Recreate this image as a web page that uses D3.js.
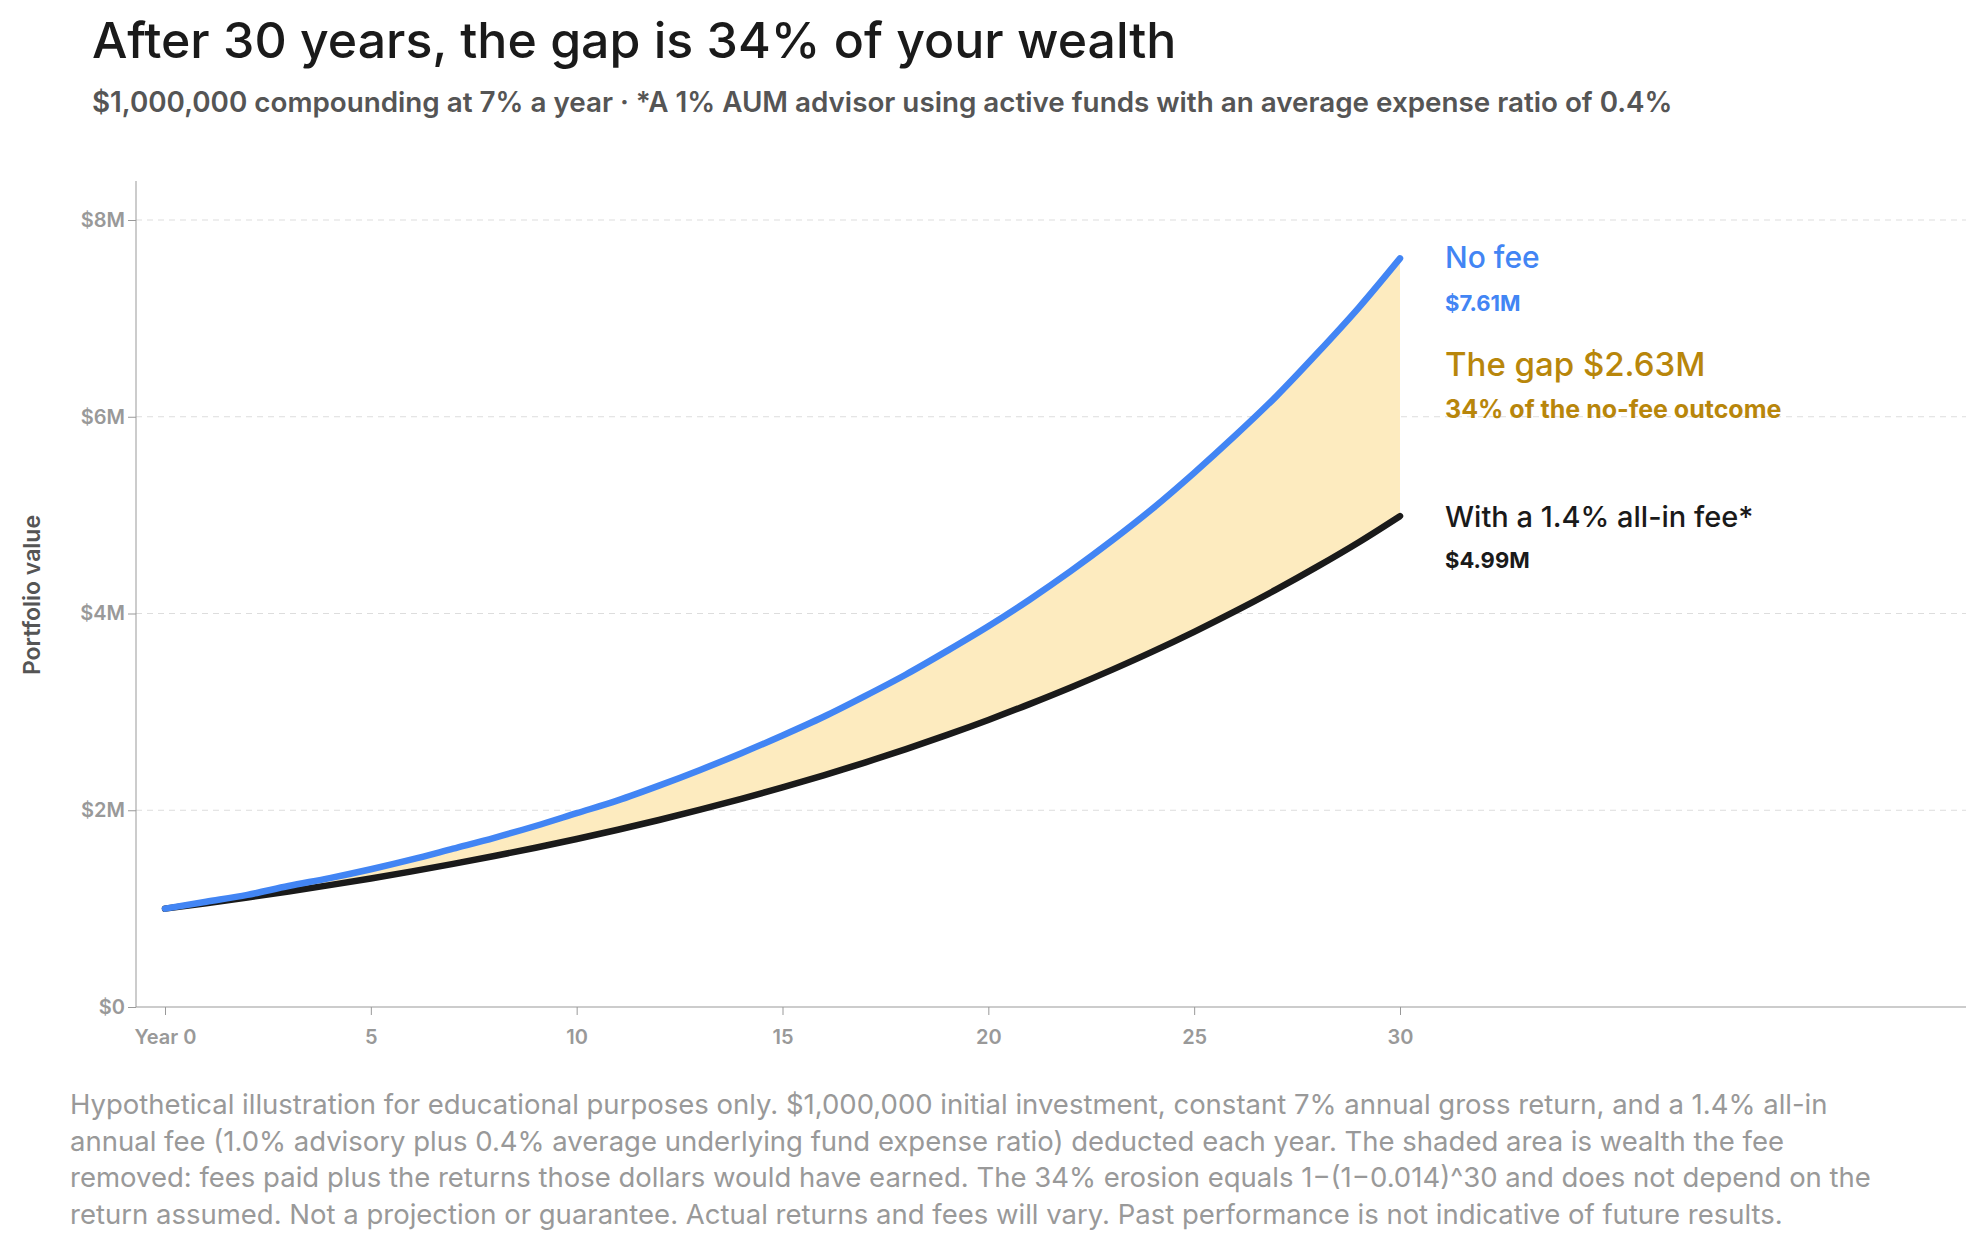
<!DOCTYPE html>
<html><head><meta charset="utf-8">
<script src="https://cdn.jsdelivr.net/npm/d3@7"></script>
<style>body{margin:0;background:#fff;font-family:Inter,"Open Sans",sans-serif}</style>
</head><body><svg id="c" width="1976" height="1259"></svg>
<script>
const years = d3.range(0,31);
const noFee = [1.00,1.07,1.14,1.23,1.31,1.40,1.50,1.61,1.72,1.84,1.97,2.10,2.25,2.41,2.58,2.76,2.95,3.16,3.38,3.62,3.87,4.14,4.43,4.74,5.07,5.43,5.81,6.21,6.65,7.11,7.61];
const withFee = [1.00,1.055,1.113,1.174,1.239,1.307,1.379,1.455,1.535,1.619,1.708,1.802,1.901,2.006,2.116,2.233,2.355,2.485,2.622,2.766,2.918,3.079,3.248,3.427,3.615,3.814,4.024,4.245,4.479,4.725,4.99];
const gapLabel = "$2.63M";
const xTicks = [0,5,10,15,20,25,30];
const yTicks = [0,2,4,6,8];
const footnote = ["Hypothetical illustration for educational purposes only. $1,000,000 initial investment, constant 7% annual gross return, and a 1.4% all-in",
"annual fee (1.0% advisory plus 0.4% average underlying fund expense ratio) deducted each year. The shaded area is wealth the fee",
"removed: fees paid plus the returns those dollars would have earned. The 34% erosion equals 1−(1−0.014)^30 and does not depend on the",
"return assumed. Not a projection or guarantee. Actual returns and fees will vary. Past performance is not indicative of future results."];

const svg = d3.select("#c");
const x = d3.scaleLinear().domain([0,30]).range([165,1400]);
const y = d3.scaleLinear().domain([0,8]).range([1007,220]);
const data = years.map((t,i)=>({t,a:noFee[i],b:withFee[i]}));

svg.append("text").attr("x",92).attr("y",58).attr("font-size",50).attr("font-weight",500).attr("fill","#1a1a1a").text("After 30 years, the gap is 34% of your wealth");
svg.append("text").attr("x",92).attr("y",112).attr("font-size",27.8).attr("font-weight",600).attr("fill","#555").text("$1,000,000 compounding at 7% a year · *A 1% AUM advisor using active funds with an average expense ratio of 0.4%");

svg.append("g").selectAll("line").data(yTicks.filter(d=>d>0)).join("line")
 .attr("x1",136).attr("x2",1966).attr("y1",d=>y(d)).attr("y2",d=>y(d))
 .attr("stroke","#ddd").attr("stroke-dasharray","6,5");
const ya = svg.append("g").attr("transform","translate(136,0)")
 .call(d3.axisLeft(y).tickValues(yTicks).tickFormat(d=>d===0?"$0":"$"+d+"M").tickSize(8).tickSizeOuter(0));
ya.select(".domain").attr("stroke","#999").attr("d","M0,181V1007");
const xa = svg.append("g").attr("transform","translate(0,1007)")
 .call(d3.axisBottom(x).tickValues(xTicks).tickFormat(d=>d===0?"Year 0":d).tickSize(8).tickSizeOuter(0));
xa.select(".domain").attr("stroke","#999").attr("d","M136,0H1966");
svg.selectAll(".tick line").attr("stroke","#999");
svg.selectAll(".tick text").attr("font-size",20).attr("font-weight",600).attr("fill","#999").attr("font-family","Inter");
xa.selectAll(".tick text").attr("dy","1.3em");

svg.append("text").attr("transform","translate(40,595) rotate(-90)").attr("text-anchor","middle")
 .attr("font-size",23).attr("font-weight",600).attr("fill","#555").text("Portfolio value");

svg.append("path").datum(data).attr("fill","#fdebbf")
 .attr("d",d3.area().x(d=>x(d.t)).y0(d=>y(d.b)).y1(d=>y(d.a)).curve(d3.curveMonotoneX));
svg.append("path").datum(data).attr("fill","none").attr("stroke","#1a1a1a").attr("stroke-width",6.5).attr("stroke-linecap","round")
 .attr("d",d3.line().x(d=>x(d.t)).y(d=>y(d.b)).curve(d3.curveMonotoneX));
svg.append("path").datum(data).attr("fill","none").attr("stroke","#4285f4").attr("stroke-width",6.5).attr("stroke-linecap","round")
 .attr("d",d3.line().x(d=>x(d.t)).y(d=>y(d.a)).curve(d3.curveMonotoneX));

const lx = 1445;
const lab=(yy,s,w,c,t)=>svg.append("text").attr("x",lx).attr("y",yy).attr("font-size",s).attr("font-weight",w).attr("fill",c).text(t);
lab(268,30,500,"#4285f4","No fee");
lab(311,22,700,"#4285f4","$"+noFee[30].toFixed(2)+"M");
lab(376,33,500,"#b8860b","The gap "+gapLabel);
lab(418,25,700,"#b8860b","34% of the no-fee outcome");
lab(527,29,500,"#1a1a1a","With a 1.4% all-in fee*");
lab(568,22,700,"#1a1a1a","$"+withFee[30].toFixed(2)+"M");

svg.append("g").selectAll("text").data(footnote).join("text")
 .attr("x",70).attr("y",(d,i)=>1114+i*36.5).attr("font-size",27.5).attr("fill","#999").text(d=>d);
</script></body></html>
